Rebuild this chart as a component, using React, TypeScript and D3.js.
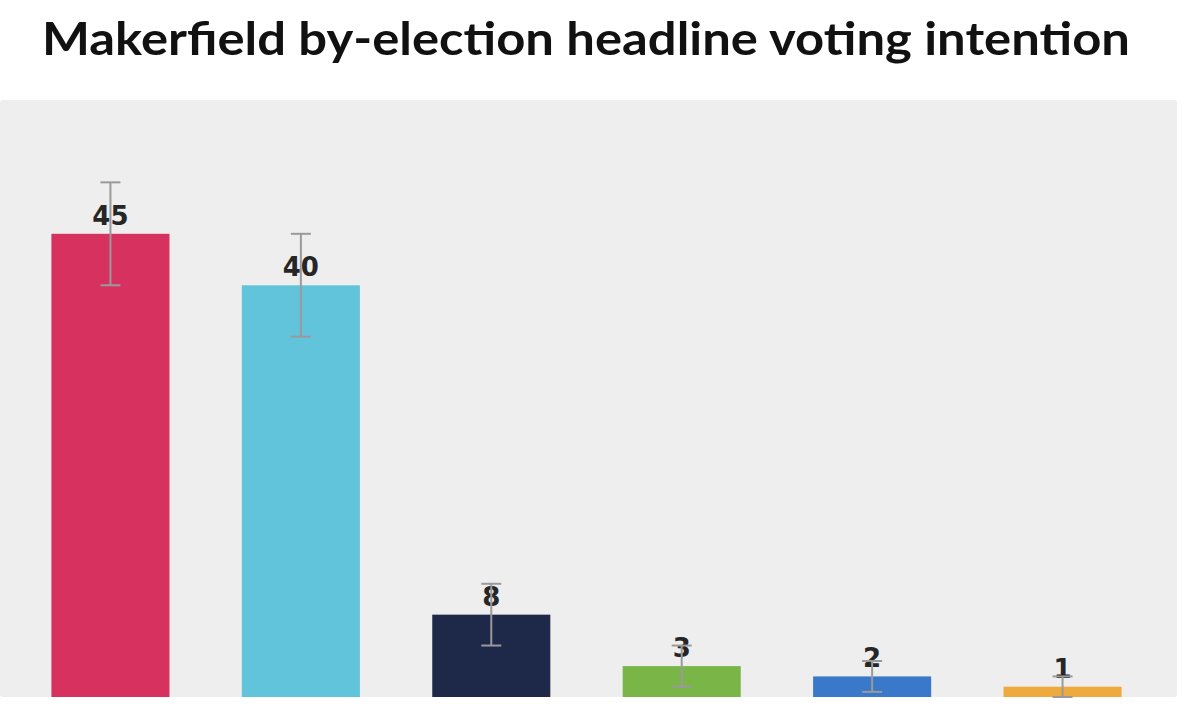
import * as d3 from 'd3';

const categories = ['p1', 'p2', 'p3', 'p4', 'p5', 'p6'];
const shares = [45, 40, 8, 3, 2, 1];
const errors = [5, 5, 3, 2, 1.5, 1];
const barColors = ['#d6315f', '#62c4db', '#1e2849', '#7ab547', '#3a78c9', '#efaa3e'];
const title = 'Makerfield by-election headline voting intention';

const width = 1200;
const height = 716;
const panel = { left: 0, top: 100, right: 1177, bottom: 697 };

export default function App() {
  const x = d3.scaleBand<string>()
    .domain(categories)
    .range([panel.left, 1173])
    .paddingInner(0.38)
    .paddingOuter(0.27);

  const y = d3.scaleLinear()
    .domain([0, 58])
    .range([panel.bottom, panel.top]);

  const capHalf = 10;

  return (
    <svg
      width={width}
      height={height}
      style={{ position: 'absolute', left: 0, top: 0, background: '#fff' }}
    >
      <text
        x={586}
        y={55}
        textAnchor="middle"
        textLength={1088}
        lengthAdjust="spacingAndGlyphs"
        style={{ fontFamily: 'Lato, "Open Sans", sans-serif', fontWeight: 700, fontSize: 46, fill: '#111' }}
      >
        {title}
      </text>

      <rect
        x={panel.left}
        y={panel.top}
        width={panel.right - panel.left}
        height={panel.bottom - panel.top}
        rx={3}
        fill="#eeeeee"
      />

      {categories.map((c, i) => {
        const bx = x(c)!;
        const cx = bx + x.bandwidth() / 2;
        const top = y(shares[i]);
        const eTop = y(shares[i] + errors[i]);
        const eBot = y(shares[i] - errors[i]);
        return (
          <g key={c}>
            <rect
              x={bx}
              y={top}
              width={x.bandwidth()}
              height={panel.bottom - top}
              fill={barColors[i]}
            />
            <text
              x={cx}
              y={top - 9}
              textAnchor="middle"
              style={{ fontFamily: '"DejaVu Sans", sans-serif', fontWeight: 700, fontSize: 26, fill: '#262626' }}
            >
              {shares[i]}
            </text>
            <g stroke="#9a9a9a" strokeWidth={2}>
              <line x1={cx} x2={cx} y1={eTop} y2={eBot} />
              <line x1={cx - capHalf} x2={cx + capHalf} y1={eTop} y2={eTop} />
              <line x1={cx - capHalf} x2={cx + capHalf} y1={eBot} y2={eBot} />
            </g>
          </g>
        );
      })}
    </svg>
  );
}
